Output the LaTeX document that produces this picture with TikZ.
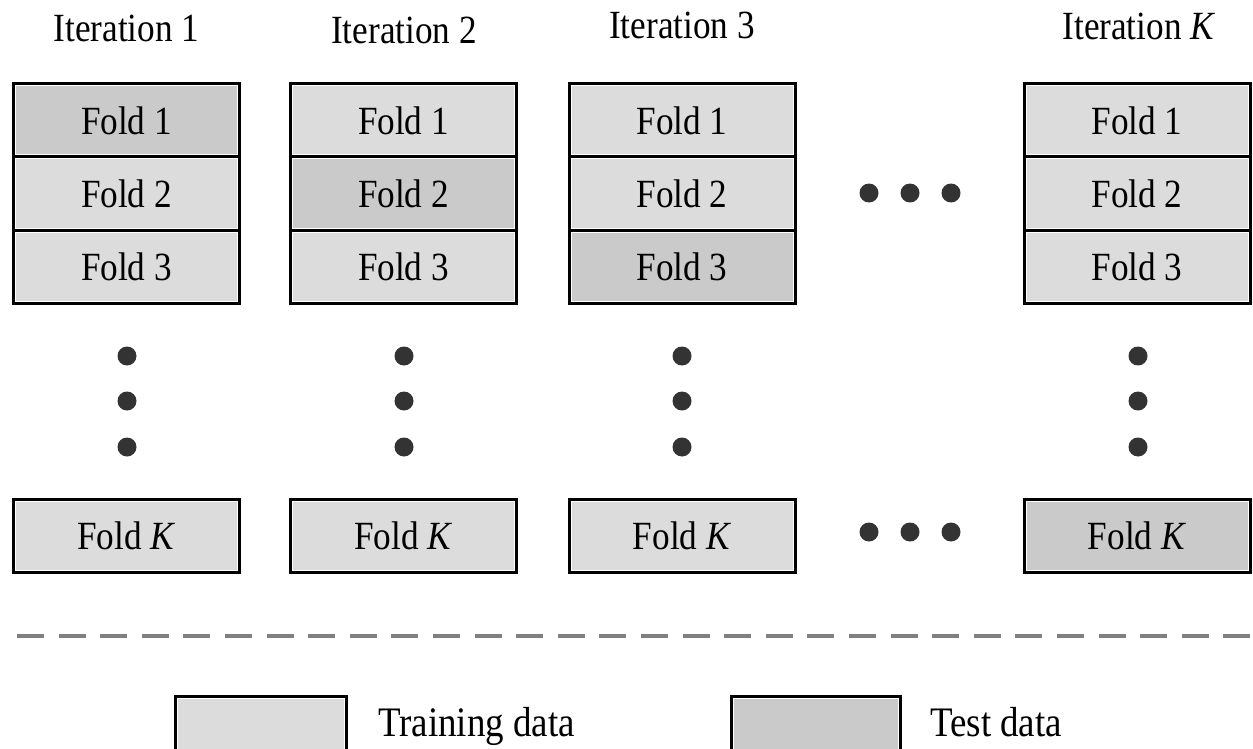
\documentclass[tikz,border=0pt]{standalone}
\usepackage{fontspec}
\setmainfont{Liberation Serif}[FakeStretch=0.88]
\usetikzlibrary{calc}
\definecolor{train}{HTML}{DCDCDC}
\definecolor{test}{HTML}{CACACA}
\definecolor{dotc}{HTML}{333333}
\definecolor{dashc}{HTML}{808080}
\begin{document}
\begin{tikzpicture}[x=1pt,y=-1pt,
  every node/.style={font=\fontsize{40}{48}\selectfont, inner sep=0pt},
  fold/.style={draw=black, line width=3pt, minimum width=226pt, minimum height=73pt,
    fill=white,
    path picture={\fill[#1] ($(path picture bounding box.north west)+(2.5pt,-2.5pt)$) rectangle ($(path picture bounding box.south east)+(-2.5pt,2.5pt)$);}},
  dot/.style={circle, fill=dotc, minimum size=19pt, inner sep=0pt},
  title/.style={anchor=base},
  legtext/.style={anchor=base west, font=\fontsize{42}{50}\selectfont}]
\useasboundingbox (0,0) rectangle (1253,749);
\fill[white] (0,0) rectangle (1253,749);

% titles
\node[title] (t1) at (126.5,42) {Iteration 1};
\node[title] (t2) at (404,44) {Iteration 2};
\node[title] (t3) at (682,39) {Iteration 3};
\node[title] (tK) at (1139,40) {Iteration \textit{K}};

% column 1
\node[fold=test]  (a1) at (126.5,120.5) {Fold 1};
\node[fold=train] (a2) at (126.5,193.5) {Fold 2};
\node[fold=train] (a3) at (126.5,266.5) {Fold 3};
\node[fold=train] (aK) at (126.5,536) {Fold \textit{K}};
% column 2
\node[fold=train] (b1) at (403.5,120.5) {Fold 1};
\node[fold=test]  (b2) at (403.5,193.5) {Fold 2};
\node[fold=train] (b3) at (403.5,266.5) {Fold 3};
\node[fold=train] (bK) at (403.5,536) {Fold \textit{K}};
% column 3
\node[fold=train] (c1) at (682,120.5) {Fold 1};
\node[fold=train] (c2) at (682,193.5) {Fold 2};
\node[fold=test]  (c3) at (682,266.5) {Fold 3};
\node[fold=train] (cK) at (682,536) {Fold \textit{K}};
% column K
\node[fold=train] (k1) at (1137,120.5) {Fold 1};
\node[fold=train] (k2) at (1137,193.5) {Fold 2};
\node[fold=train] (k3) at (1137,266.5) {Fold 3};
\node[fold=test]  (kK) at (1137,536) {Fold \textit{K}};

% vertical dots
\foreach \n/\x in {a/127,b/404,c/682,k/1138}{
  \node[dot] (\n v1) at (\x,356) {};
  \node[dot] (\n v2) at (\x,401) {};
  \node[dot] (\n v3) at (\x,447) {};
}
% horizontal dots
\foreach \i/\x in {1/869,2/910,3/951}{
  \node[dot] (hu\i) at (\x,193) {};
  \node[dot] (hl\i) at (\x,532) {};
}

% dashed separator
\coordinate (dl) at (17,636);
\coordinate (dr) at (1260,636);
\draw[dashc, line width=3.5pt, dash pattern=on 27pt off 14.6pt] (dl) -- (dr);

% legend
\node[fold=train, minimum width=171pt, minimum height=64pt] (lt) at (261,728) {};
\node[legtext] (ltt) at (378,736) {Training data};
\node[fold=test, minimum width=169pt, minimum height=64pt] (ls) at (816,728) {};
\node[legtext] (lst) at (930,736) {Test data};
\end{tikzpicture}
\end{document}
